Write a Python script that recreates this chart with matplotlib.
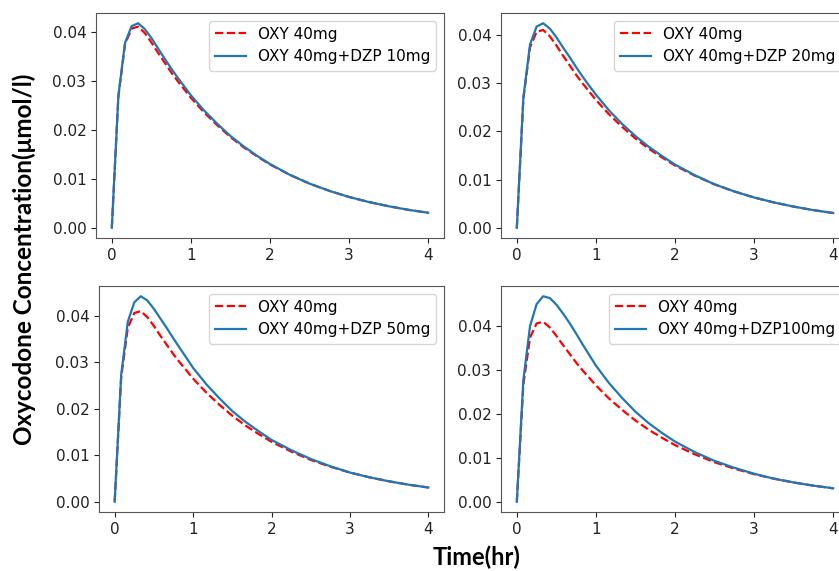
import matplotlib.pyplot as plt

# time points (hr)
time_hr = [0, 0.083, 0.167, 0.25, 0.333, 0.417, 0.5, 0.583, 0.667, 0.75, 0.833, 0.917, 1.0,
           1.167, 1.333, 1.5, 1.667, 1.833, 2.0, 2.25, 2.5, 2.75, 3.0, 3.25, 3.5, 3.75, 4.0]

# oxycodone alone
oxy_40 = [0, 0.0268, 0.0374, 0.0406, 0.0410, 0.0397, 0.0378, 0.0357, 0.0337, 0.0317, 0.0299, 0.0282, 0.0265,
          0.0235, 0.0209, 0.0185, 0.0164, 0.0146, 0.0129, 0.0108, 0.0090, 0.00753, 0.00628, 0.00525,
          0.00439, 0.00366, 0.00306]

# oxycodone + diazepam
oxy_dzp10 = [0, 0.0269, 0.0377, 0.0411, 0.0417, 0.0405, 0.0387, 0.0366, 0.0345, 0.0325, 0.0306, 0.0288, 0.0270,
             0.0239, 0.0212, 0.0187, 0.0166, 0.0147, 0.0130, 0.0108, 0.0090, 0.00753, 0.00628, 0.00525,
             0.00439, 0.00366, 0.00306]
oxy_dzp20 = [0, 0.0270, 0.0380, 0.0417, 0.0424, 0.0413, 0.0395, 0.0374, 0.0354, 0.0333, 0.0313, 0.0294, 0.0276,
             0.0243, 0.0215, 0.0190, 0.0168, 0.0149, 0.0131, 0.0109, 0.0090, 0.00753, 0.00628, 0.00525,
             0.00439, 0.00366, 0.00306]
oxy_dzp50 = [0, 0.0273, 0.0387, 0.0429, 0.0442, 0.0433, 0.0415, 0.0394, 0.0373, 0.0351, 0.0330, 0.0309, 0.0288,
             0.0253, 0.0223, 0.0195, 0.0172, 0.0152, 0.0133, 0.0111, 0.0092, 0.00763, 0.00628, 0.00525,
             0.00439, 0.00366, 0.00306]
oxy_dzp100 = [0, 0.0278, 0.0400, 0.0450, 0.0468, 0.0464, 0.0449, 0.0429, 0.0407, 0.0383, 0.0358, 0.0334, 0.0310,
              0.0270, 0.0236, 0.0205, 0.0179, 0.0157, 0.0137, 0.0113, 0.0093, 0.00773, 0.00638, 0.00525,
              0.00439, 0.00366, 0.00306]

combo_series = [oxy_dzp10, oxy_dzp20, oxy_dzp50, oxy_dzp100]
combo_labels = ['OXY 40mg+DZP 10mg', 'OXY 40mg+DZP 20mg', 'OXY 40mg+DZP 50mg', 'OXY 40mg+DZP100mg']

W, H = 839, 571
fig = plt.figure(figsize=(W / 100, H / 100), dpi=100)

# panel boxes in pixels: left, top, right, bottom (right column runs past the edge)
boxes = [(96, 13, 444, 238), (501, 13, 849, 238),
         (99, 286, 444, 512), (501, 286, 849, 512)]

for box, combo, label in zip(boxes, combo_series, combo_labels):
    l, t, r, b = box
    ax = fig.add_axes([l / W, 1 - b / H, (r - l) / W, (b - t) / H])
    ax.plot(time_hr, oxy_40, 'r--', linewidth=1.6, label='OXY 40mg')
    ax.plot(time_hr, combo, color='#1f77b4', linewidth=1.6, label=label)
    ax.set_xticks([0, 1, 2, 3, 4])
    ax.set_yticks([0.0, 0.01, 0.02, 0.03, 0.04])
    ax.tick_params(labelsize=11, colors='#222222')
    for sp in ax.spines.values():
        sp.set_edgecolor('#555555')
    ax.legend(loc='upper right', fontsize=11)

fig.text(24 / W, 1 - 259 / H, 'Oxycodone Concentration(μmol/l)', rotation=90,
         ha='center', va='center', fontsize=17.5, fontweight='bold', family='Lato')
fig.text(477 / W, 1 - 557 / H, 'Time(hr)', ha='center', va='center',
         fontsize=17, fontweight='bold', family='Lato')

fig.savefig('out.png', dpi=100)
